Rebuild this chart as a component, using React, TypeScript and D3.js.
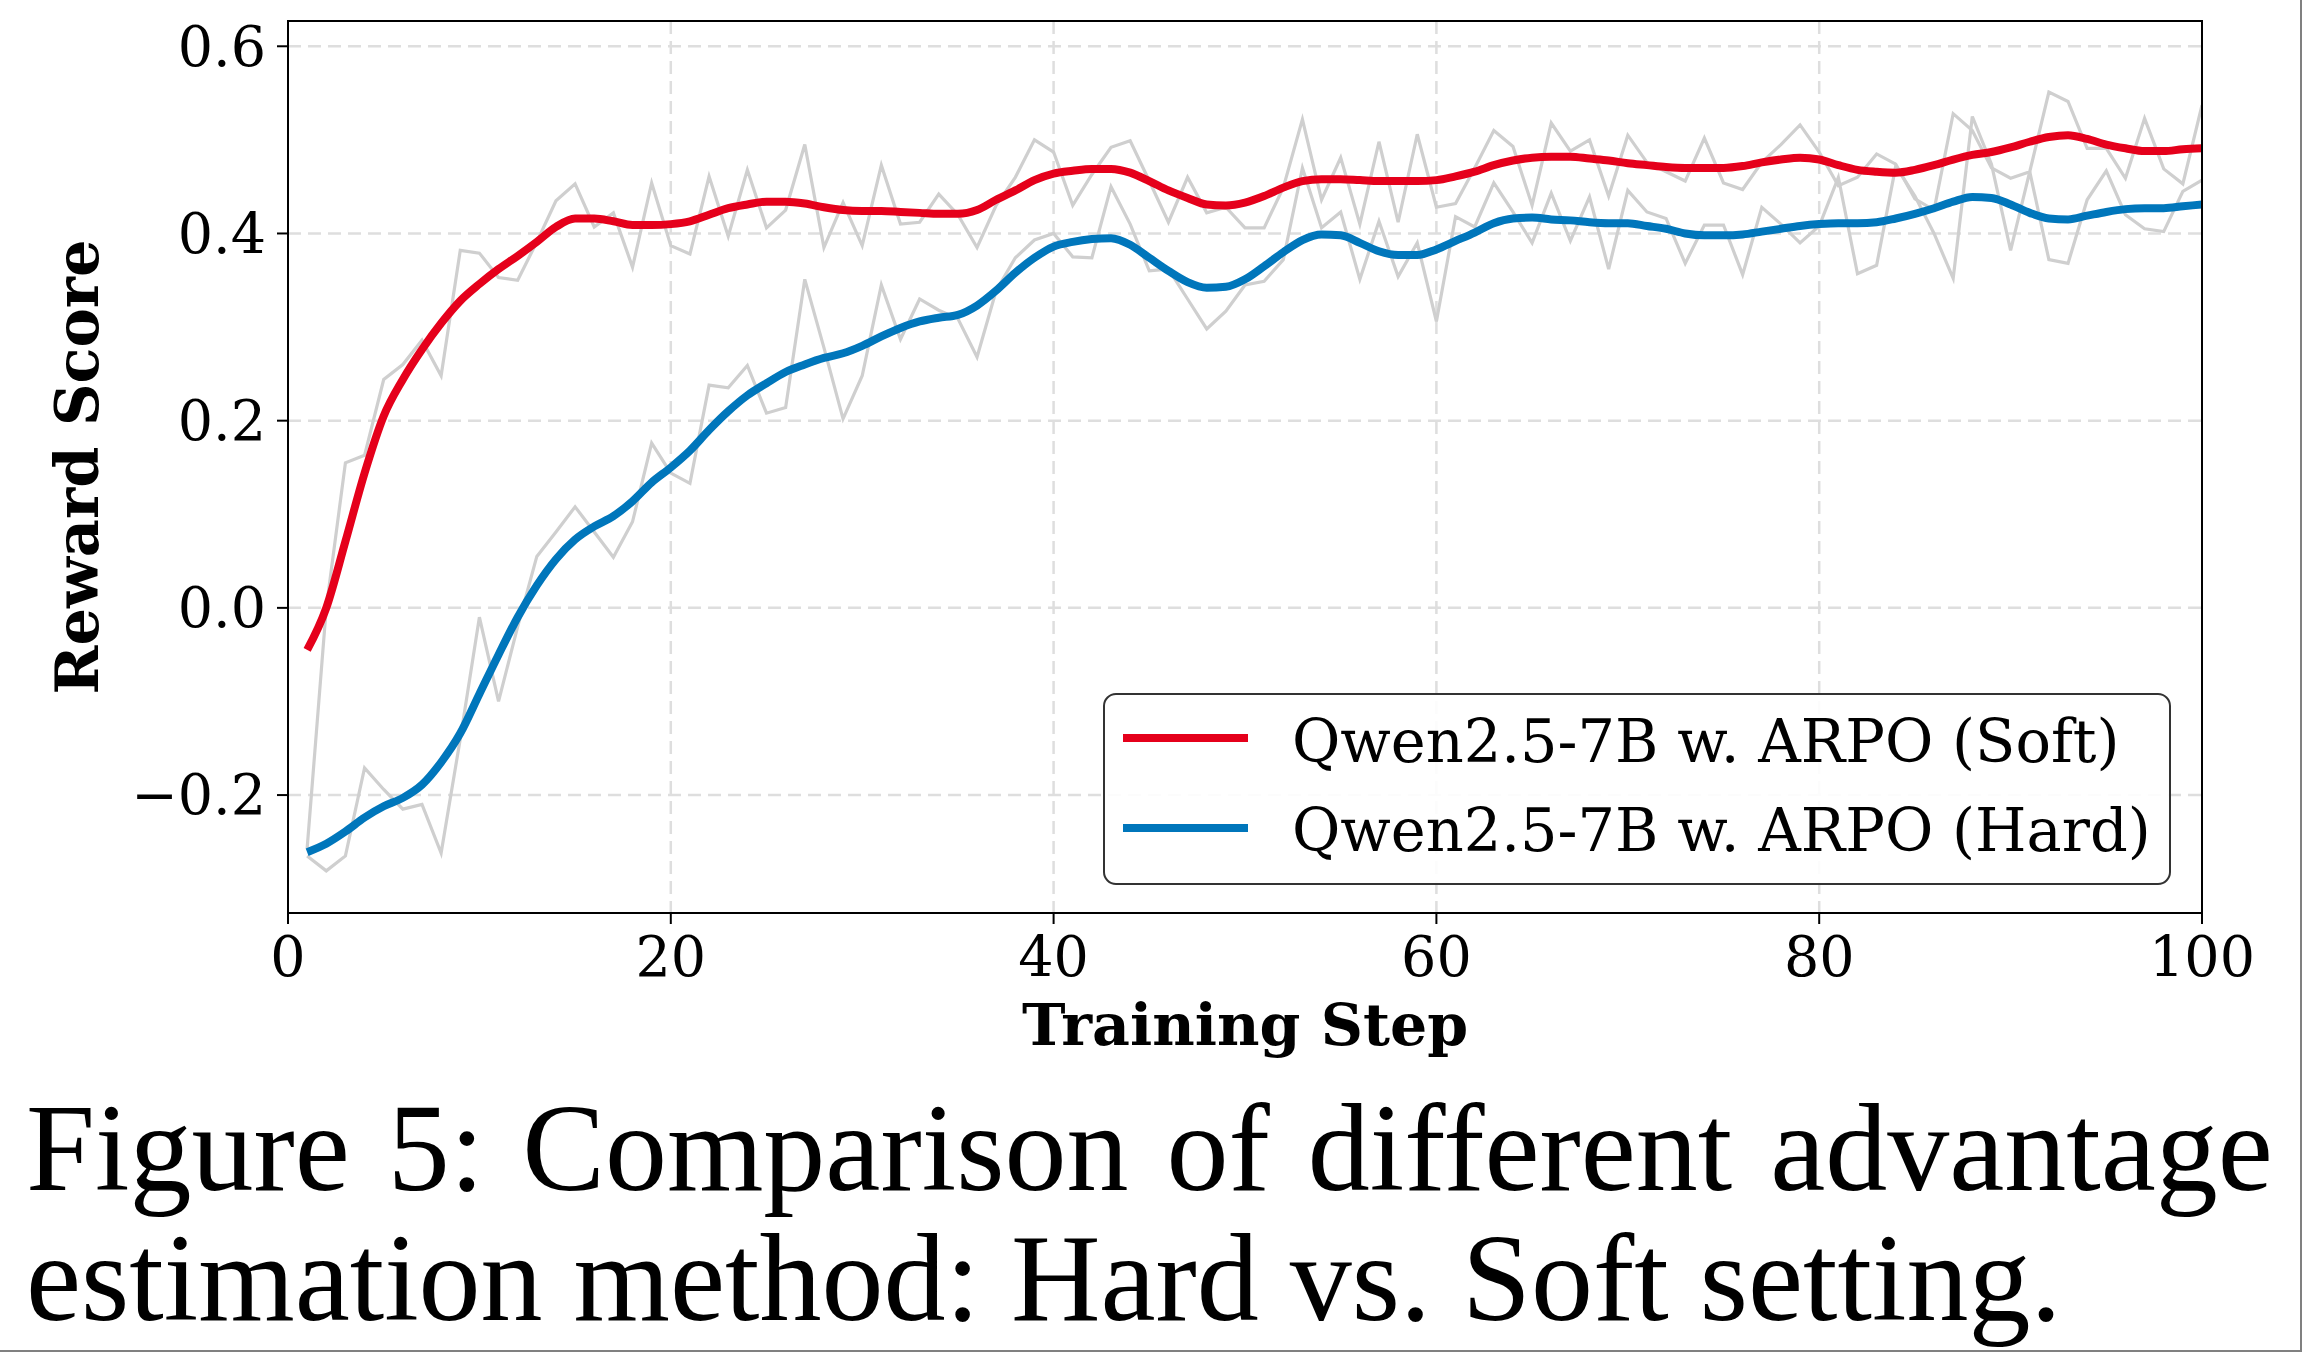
import * as React from 'react';
import { scaleLinear, line, range, curveMonotoneX } from 'd3';

// training steps 1..100
const steps = range(1, 101);

// raw (per-step) reward
const softRaw = [
  -0.257, 0.0, 0.155, 0.163, 0.244, 0.26, 0.286, 0.248, 0.382, 0.379,
  0.353, 0.35, 0.391, 0.435, 0.453, 0.407, 0.422, 0.364, 0.454, 0.387,
  0.378, 0.461, 0.397, 0.468, 0.406, 0.425, 0.495, 0.385, 0.433, 0.387,
  0.473, 0.41, 0.412, 0.442, 0.42, 0.385, 0.43, 0.46, 0.5, 0.487,
  0.43, 0.463, 0.492, 0.499, 0.456, 0.412, 0.46, 0.422, 0.428, 0.406,
  0.406, 0.449, 0.522, 0.436, 0.481, 0.41, 0.498, 0.412, 0.506, 0.428,
  0.432, 0.47, 0.51, 0.493, 0.43, 0.518, 0.488, 0.5, 0.44, 0.505,
  0.476, 0.466, 0.456, 0.502, 0.454, 0.447, 0.476, 0.495, 0.516, 0.487,
  0.451, 0.46, 0.485, 0.474, 0.437, 0.425, 0.528, 0.51, 0.47, 0.459,
  0.466, 0.551, 0.541, 0.491, 0.491, 0.459, 0.523, 0.469, 0.453, 0.537,
];
const hardRaw = [
  -0.265, -0.281, -0.265, -0.171, -0.194, -0.215, -0.21, -0.262, -0.14, -0.01,
  -0.1, -0.02, 0.055, 0.081, 0.108, 0.081, 0.054, 0.092, 0.176, 0.144,
  0.133, 0.238, 0.235, 0.259, 0.208, 0.214, 0.351, 0.278, 0.202, 0.248,
  0.345, 0.287, 0.33, 0.318, 0.309, 0.268, 0.339, 0.374, 0.393, 0.4,
  0.375, 0.374, 0.45, 0.41, 0.36, 0.362, 0.33, 0.298, 0.317, 0.345,
  0.349, 0.372, 0.47, 0.406, 0.423, 0.351, 0.413, 0.354, 0.39, 0.306,
  0.418, 0.407, 0.454, 0.423, 0.39, 0.443, 0.392, 0.439, 0.362, 0.446,
  0.423, 0.416, 0.368, 0.409, 0.409, 0.356, 0.428, 0.41, 0.39, 0.408,
  0.46, 0.357, 0.366, 0.472, 0.44, 0.4, 0.352, 0.525, 0.474, 0.382,
  0.466, 0.372, 0.368, 0.436, 0.467, 0.42, 0.405, 0.402, 0.445, 0.457,
];

// smoothed curves (red / blue)
const softSmooth = [
  -0.045, 0.0, 0.071, 0.144, 0.205, 0.244, 0.276, 0.304, 0.328, 0.346,
  0.362, 0.376, 0.391, 0.407, 0.416, 0.416, 0.413, 0.409, 0.409, 0.41,
  0.413, 0.42, 0.427, 0.431, 0.434, 0.434, 0.432, 0.428, 0.425, 0.424,
  0.424, 0.423, 0.422, 0.421, 0.421, 0.425, 0.436, 0.446, 0.457, 0.464,
  0.467, 0.469, 0.469, 0.465, 0.456, 0.446, 0.438, 0.431, 0.43, 0.433,
  0.44, 0.449, 0.456, 0.458, 0.458, 0.457, 0.456, 0.456, 0.456, 0.457,
  0.461, 0.466, 0.473, 0.478, 0.481, 0.482, 0.482, 0.48, 0.478, 0.475,
  0.473, 0.471, 0.47, 0.47, 0.47, 0.472, 0.476, 0.479, 0.481, 0.479,
  0.473, 0.468, 0.466, 0.465, 0.468, 0.473, 0.479, 0.484, 0.487, 0.492,
  0.498, 0.503, 0.505, 0.501, 0.495, 0.491, 0.488, 0.488, 0.49, 0.491,
];
const hardSmooth = [
  -0.261, -0.252, -0.239, -0.224, -0.212, -0.203, -0.189, -0.165, -0.134, -0.092,
  -0.05, -0.01, 0.024, 0.052, 0.073, 0.087, 0.098, 0.114, 0.134, 0.15,
  0.168, 0.19, 0.21, 0.227, 0.24, 0.252, 0.26, 0.267, 0.272, 0.28,
  0.29, 0.299, 0.306, 0.31, 0.313, 0.323, 0.339, 0.358, 0.374, 0.386,
  0.391, 0.394, 0.395, 0.388, 0.374, 0.36, 0.348, 0.342, 0.343, 0.351,
  0.365, 0.38, 0.393, 0.399, 0.398, 0.39, 0.381, 0.377, 0.377, 0.383,
  0.392, 0.401, 0.411, 0.416, 0.417, 0.415, 0.414, 0.412, 0.411, 0.411,
  0.408, 0.405, 0.4, 0.398, 0.398, 0.399, 0.402, 0.405, 0.408, 0.41,
  0.411, 0.411, 0.412, 0.416, 0.421, 0.427, 0.434, 0.439, 0.438, 0.431,
  0.422, 0.416, 0.415, 0.419, 0.423, 0.426, 0.427, 0.427, 0.429, 0.431,
];

const xTicks = [0, 20, 40, 60, 80, 100];
const yTicks = [-0.2, 0.0, 0.2, 0.4, 0.6];
const legendLabels = ['Qwen2.5-7B w. ARPO (Soft)', 'Qwen2.5-7B w. ARPO (Hard)'];
const captionLines = [
  'Figure 5: Comparison of different advantage',
  'estimation method: Hard vs. Soft setting.',
];

const RED = '#e5001b';
const BLUE = '#0076bb';
const GREY = '#cfcfcf';
const GRID = '#dedede';

const W = 2302;
const H = 1352;
const margin = { left: 288, right: 100, top: 21, bottom: 439 };
const width = W - margin.left - margin.right;
const height = H - margin.top - margin.bottom;
const transformMargin = `translate(${margin.left}, ${margin.top})`;

const xScale = scaleLinear().domain([0, 100]).range([0, width]);
const yScale = scaleLinear().domain([-0.326, 0.627]).range([height, 0]);

const rawLine = line<number>()
  .x((_, i) => xScale(steps[i]))
  .y(d => yScale(d));

const smoothLine = line<number>()
  .x((_, i) => xScale(steps[i]))
  .y(d => yScale(d))
  .curve(curveMonotoneX);

const fmtY = (v: number) => (v < 0 ? '\u2212' : '') + Math.abs(v).toFixed(1);

const serif = '"DejaVu Serif", serif';

export default function App() {
  return (
    <div style={{ position: 'absolute', left: 0, top: 0, width: W, height: H, background: '#fff' }}>
      <svg width={W} height={H} style={{ display: 'block' }}>
        <rect width={W} height={H} fill="#fff" />
        <defs>
          <clipPath id="plot-clip">
            <rect x={0} y={0} width={width} height={height} />
          </clipPath>
        </defs>
        <g transform={transformMargin}>
          {/* grid */}
          {yTicks.map(t => (
            <line key={'gy' + t} x1={0} x2={width} y1={yScale(t)} y2={yScale(t)}
              stroke={GRID} strokeWidth={2.5} strokeDasharray="13,7" />
          ))}
          {xTicks.slice(1, -1).map(t => (
            <line key={'gx' + t} x1={xScale(t)} x2={xScale(t)} y1={0} y2={height}
              stroke={GRID} strokeWidth={2.5} strokeDasharray="13,7" />
          ))}

          <g clipPath="url(#plot-clip)">
            <path d={rawLine(softRaw)!} fill="none" stroke={GREY} strokeWidth={3.2} />
            <path d={rawLine(hardRaw)!} fill="none" stroke={GREY} strokeWidth={3.2} />
            <path d={smoothLine(softSmooth)!} fill="none" stroke={RED} strokeWidth={8} />
            <path d={smoothLine(hardSmooth)!} fill="none" stroke={BLUE} strokeWidth={8} />
          </g>

          {/* legend */}
          <g>
            <rect x={816} y={673} width={1066} height={190} rx={12} ry={12}
              fill="#fff" fillOpacity={0.9} stroke="#333" strokeWidth={2} />
            {[RED, BLUE].map((c, i) => (
              <g key={c}>
                <line x1={835} x2={960} y1={717 + i * 90} y2={717 + i * 90} stroke={c} strokeWidth={8} />
                <text x={1004} y={741 + i * 89} fontFamily={serif} fontSize={59} fill="#000">
                  {legendLabels[i]}
                </text>
              </g>
            ))}
          </g>

          {/* frame */}
          <rect x={0} y={0} width={width} height={height} fill="none" stroke="#000" strokeWidth={2} />

          {/* x axis */}
          {xTicks.map(t => (
            <g key={'xt' + t}>
              <line x1={xScale(t)} x2={xScale(t)} y1={height} y2={height + 11} stroke="#000" strokeWidth={2} />
              <text x={xScale(t)} y={955} textAnchor="middle" fontFamily={serif} fontSize={55.5} fill="#000">
                {t}
              </text>
            </g>
          ))}
          <text x={width / 2} y={1024} textAnchor="middle" fontFamily={serif} fontWeight="bold" fontSize={58.5} fill="#000">
            Training Step
          </text>

          {/* y axis */}
          {yTicks.map(t => (
            <g key={'yt' + t}>
              <line x1={-11} x2={0} y1={yScale(t)} y2={yScale(t)} stroke="#000" strokeWidth={2} />
              <text x={-22} y={yScale(t)} dy="0.35em" textAnchor="end" fontFamily={serif} fontSize={55.5} fill="#000">
                {fmtY(t)}
              </text>
            </g>
          ))}
          <text transform={`translate(-190, ${height / 2}) rotate(-90)`} textAnchor="middle"
            fontFamily={serif} fontWeight="bold" fontSize={59} fill="#000">
            Reward Score
          </text>
        </g>

        {/* caption (first line justified like the LaTeX paragraph) */}
        {captionLines.map((s, i) => (
          <text key={i} x={26} y={1190 + i * 130} fontFamily='"Liberation Serif", "Times New Roman", serif'
            fontSize={124} wordSpacing={i === 0 ? 7 : 0} fill="#000">
            {s}
          </text>
        ))}

        {/* page edge */}
        <line x1={W - 1} x2={W - 1} y1={0} y2={H} stroke="#808080" strokeWidth={2} />
        <line x1={0} x2={W} y1={H - 1} y2={H - 1} stroke="#808080" strokeWidth={2} />
      </svg>
    </div>
  );
}
